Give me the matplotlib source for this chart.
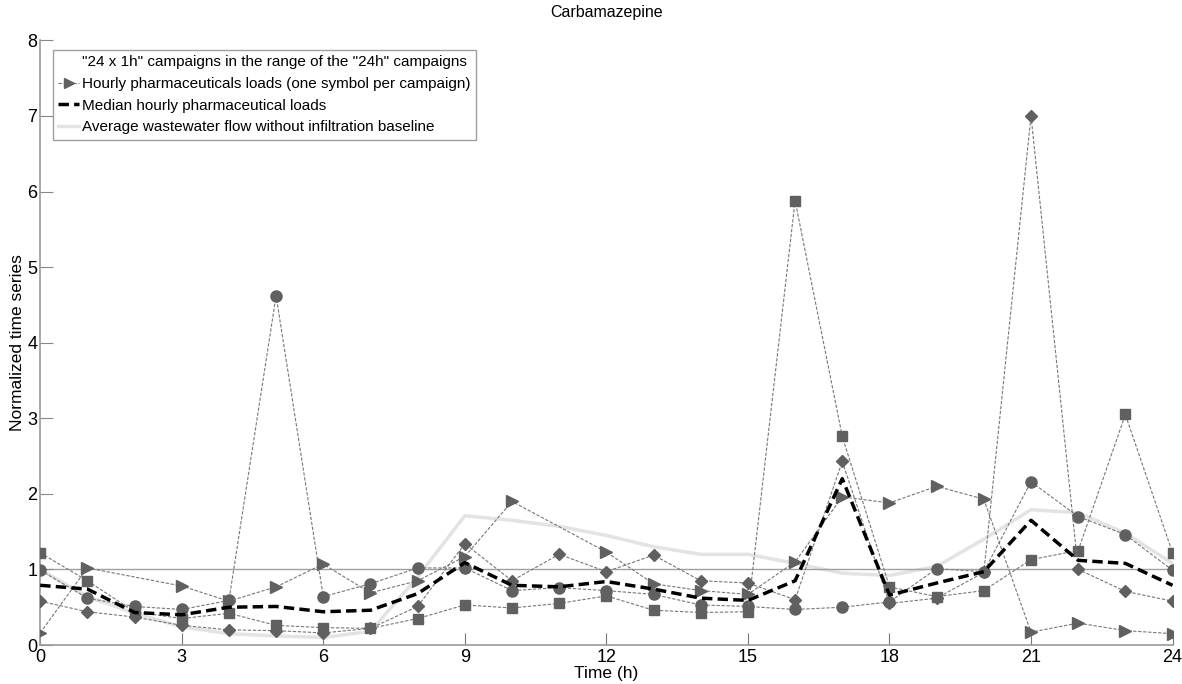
import numpy as np
import matplotlib
matplotlib.use('Agg')
import matplotlib.pyplot as plt
from matplotlib.lines import Line2D

plt.rcParams['font.family'] = ['Liberation Sans', 'DejaVu Sans']

hours = list(range(25))

# one campaign per marker
circle = [0.99, 0.62, 0.51, 0.47, 0.59, 4.62, 0.64, 0.81, 1.02, 1.02, 0.72, 0.76, 0.72,
          0.67, 0.53, 0.51, 0.47, 0.50, 0.57, 1.01, 0.97, 2.16, 1.70, 1.46, 0.99]
square = [1.22, 0.85, 0.44, 0.35, 0.42, 0.26, 0.23, 0.22, 0.35, 0.53, 0.49, 0.55, 0.65,
          0.46, 0.43, 0.44, 5.88, 2.76, 0.77, 0.64, 0.72, 1.13, 1.25, 3.05, 1.22]
diamond = [0.58, 0.44, 0.37, 0.26, 0.20, 0.19, 0.16, 0.22, 0.51, 1.34, 0.85, 1.20, 0.97,
           1.19, 0.85, 0.82, 0.60, 2.43, 0.55, 0.62, 0.96, 7.00, 1.00, 0.71, 0.58]
tri_hours = [0, 1, 3, 4, 5, 6, 7, 8, 9, 10, 12, 13, 14, 15, 16, 17, 18, 19, 20, 21, 22, 23, 24]
triangle = [0.16, 1.02, 0.78, 0.58, 0.77, 1.07, 0.69, 0.85, 1.17, 1.90, 1.23, 0.81, 0.72,
            0.67, 1.10, 1.96, 1.88, 2.10, 1.93, 0.17, 0.29, 0.19, 0.15]

median = [0.79, 0.74, 0.43, 0.40, 0.50, 0.51, 0.44, 0.46, 0.68, 1.09, 0.79, 0.77, 0.84,
          0.74, 0.62, 0.59, 0.85, 2.20, 0.66, 0.82, 0.97, 1.65, 1.12, 1.08, 0.79]
flow = [1.00, 0.64, 0.42, 0.24, 0.15, 0.12, 0.10, 0.18, 0.90, 1.71, 1.65, 1.57, 1.45,
        1.30, 1.20, 1.20, 1.08, 0.95, 0.92, 1.04, 1.40, 1.79, 1.75, 1.48, 1.08]

fig = plt.figure(figsize=(11.82, 6.84), dpi=100)
ax = fig.add_axes([0.034, 0.057, 0.958, 0.884])

ax.plot(hours, flow, color='#e3e3e3', lw=2.5, zorder=1)
ax.axhline(1, color='#a0a0a0', lw=1, zorder=1.5)

mk = dict(color='#777777', lw=0.8, ls=(0, (3, 1.5)), mfc='#606060', mec='#606060', zorder=3)
ax.plot(hours, circle, marker='o', ms=8, **mk)
ax.plot(hours, square, marker='s', ms=7, **mk)
ax.plot(hours, diamond, marker='D', ms=6, **mk)
ax.plot(tri_hours, triangle, marker='>', ms=8, **mk)

ax.plot(hours, median, color='black', lw=2.5, ls=(0, (3, 1.5)), zorder=4)

ax.set_xlim(0, 24)
ax.set_ylim(0, 8)
ax.set_xticks(range(0, 25, 3))
ax.set_yticks(range(0, 9))
ax.tick_params(axis='x', direction='in', length=9, color='#777777', labelsize=13, pad=3)
ax.tick_params(axis='y', direction='in', length=9, color='#888888', labelsize=13, pad=2)
for s in ['top', 'right']:
    ax.spines[s].set_visible(False)
for s in ['left', 'bottom']:
    ax.spines[s].set_color('#999999')
    ax.spines[s].set_linewidth(1.2)

ax.set_xlabel('Time (h)', fontsize=12.5, labelpad=0)
ax.set_ylabel('Normalized time series', fontsize=12.5)
ax.yaxis.set_label_coords(-0.013, 0.5)
ax.set_title('Carbamazepine', fontsize=11.5, pad=17)

handles = [
    Line2D([], [], color='white', lw=0),
    Line2D([], [], color='#777777', lw=0.8, ls=(0, (3, 1.5)), marker='>', ms=7,
           mfc='#606060', mec='#606060'),
    Line2D([], [], color='black', lw=2.5, ls=(0, (3, 1.5))),
    Line2D([], [], color='#e3e3e3', lw=2.5),
]
labels = ['"24 x 1h" campaigns in the range of the "24h" campaigns',
          'Hourly pharmaceuticals loads (one symbol per campaign)',
          'Median hourly pharmaceutical loads',
          'Average wastewater flow without infiltration baseline']
leg = ax.legend(handles, labels, loc='upper left', bbox_to_anchor=(0.011, 0.984),
                fontsize=11, frameon=True, fancybox=False, handlelength=1.4,
                handletextpad=0.15, borderpad=0.35, labelspacing=0.5, borderaxespad=0)
leg.get_frame().set_edgecolor('#888888')
leg.get_frame().set_linewidth(1)

fig.savefig('out.png', dpi=100)
